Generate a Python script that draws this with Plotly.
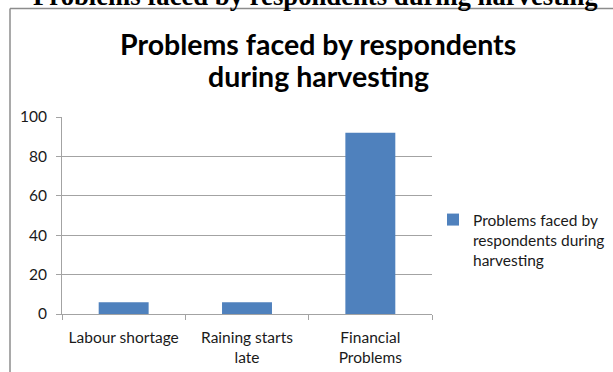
import plotly.graph_objects as go

# Survey results: problems faced by respondents during harvesting
categories = ["Labour shortage", "Raining starts<br>late", "Financial<br>Problems"]
values = [6, 6, 92]
series_name = "Problems faced by<br>respondents during<br>harvesting"
title_lines = ["Problems faced by respondents", "during harvesting"]
page_heading = "Problems faced by respondents during harvesting"
y_ticks = [0, 20, 40, 60, 80, 100]

W, H = 613, 372
L, R, T, B = 62, 181, 117, 58
PW, PH = W - L - R, H - T - B


def px(x):
    return (x - L) / PW


def py(y):
    return (H - B - y) / PH


grid = "#a3a3a3"
font_main = "Lato, Calibri, Arial, sans-serif"
txt = "#1a1a1a"

fig = go.Figure()
fig.add_trace(go.Bar(
    x=categories,
    y=values,
    name=series_name,
    marker=dict(color="#4f81bd", line=dict(width=0)),
    showlegend=True,
))

fig.update_layout(
    width=W, height=H,
    margin=dict(l=L, r=R, t=T, b=B, autoexpand=False),
    paper_bgcolor="white",
    plot_bgcolor="white",
    bargap=0.595,
    font=dict(family=font_main, size=15, color=txt),
    showlegend=True,
    legend=dict(
        x=px(433), y=py(203), xanchor="left", yanchor="top",
        font=dict(family=font_main, size=15.5, color=txt),
        valign="top", itemwidth=30, tracegroupgap=0,
        bgcolor="rgba(0,0,0,0)",
    ),
    xaxis=dict(
        type="category",
        showgrid=False,
        showline=True, linecolor=grid, linewidth=1,
        ticks="outside", tickson="boundaries", ticklen=5, tickcolor=grid,
        tickfont=dict(family=font_main, size=15.5, color=txt),
        ticklabelstandoff=9,
        fixedrange=True,
    ),
    yaxis=dict(
        range=[0, 100],
        tickvals=y_ticks,
        showgrid=True, gridcolor=grid, gridwidth=1,
        showline=True, linecolor=grid, linewidth=1,
        ticks="outside", ticklen=5, tickcolor=grid,
        tickfont=dict(family=font_main, size=15.5, color=txt),
        ticklabelstandoff=6,
        zeroline=False,
        fixedrange=True,
    ),
)

# chart title, one annotation per line
for line, yc in zip(title_lines, [44, 76]):
    fig.add_annotation(
        text=line, xref="paper", yref="paper",
        x=px(318), y=py(yc), xanchor="center", yanchor="middle",
        showarrow=False, align="center",
        font=dict(family=font_main, size=28.5, color="#000000", weight="bold"),
    )

# page heading above the chart frame (partly out of view)
fig.add_annotation(
    text=page_heading, xref="paper", yref="paper",
    x=px(315), y=py(13), xanchor="center", yanchor="bottom",
    showarrow=False,
    font=dict(family="Liberation Serif, Times New Roman, serif", size=26.7,
              color="#000000", weight="bold"),
)

# chart frame lines
frame = dict(color="#8c8c8c", width=1.5)
fig.add_shape(type="line", xref="paper", yref="paper",
              x0=px(10), x1=px(W + 5), y0=py(8.5), y1=py(8.5), line=frame)
fig.add_shape(type="line", xref="paper", yref="paper",
              x0=px(10), x1=px(10), y0=py(8.5), y1=py(H + 5), line=frame)

fig.write_html("out.html")
